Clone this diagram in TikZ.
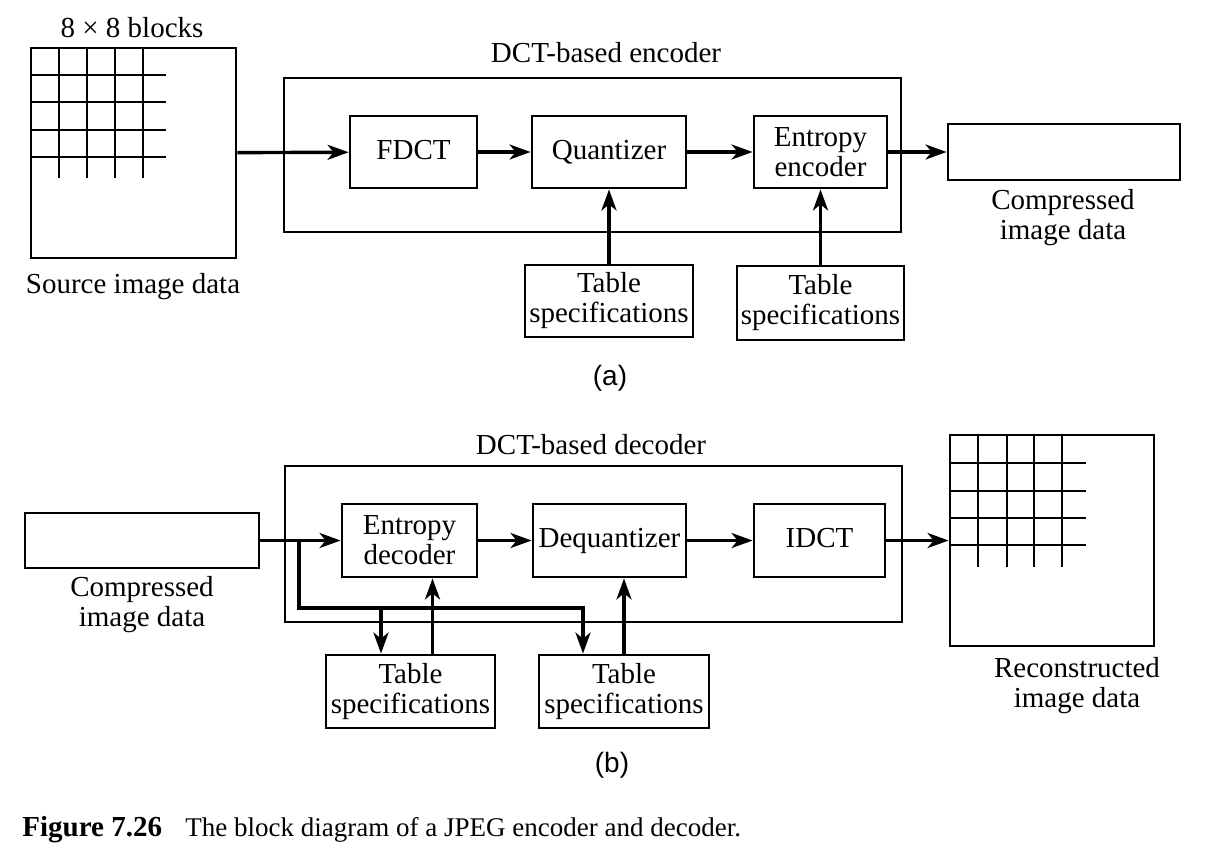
\documentclass[tikz,border=0pt]{standalone}
\usepackage{fontspec}
\setmainfont{Liberation Serif}
\setsansfont{Liberation Sans}
\usepackage{tikz}
\usetikzlibrary{positioning,arrows.meta}

\tikzset{
  block/.style={draw, line width=1.4pt, inner sep=1pt, align=center, minimum height=36pt},
  oneline/.style={text height=10pt, text depth=3pt},
  frame/.style={draw, line width=1.4pt, inner sep=0pt},
  grid/.style={line width=1.4pt},
  flow/.style={line width=1.7pt},
  txt/.style={align=center, inner sep=0pt}
}

\begin{document}
\begin{tikzpicture}[x=0.5pt,y=-0.5pt,on grid,auto,
  >={Stealth[length=10.5pt,width=7.5pt,inset=3pt]},
  font=\fontsize{14.5}{15}\selectfont]
\useasboundingbox (0,0) rectangle (1226,848);

%% (a) encoder
\node[frame, minimum width=102.5pt, minimum height=105pt] (src) at (133.5,153) {};
\foreach \x in {59,87,115,143} \draw[grid] (\x,48) -- (\x,178);
\foreach \y in {75,102,130,157} \draw[grid] (31,\y) -- (166,\y);
\node[txt] (blk) at (132,28) {8 × 8 blocks};
\node[txt] (srclab) at (133,287) {Source image data};

\node[frame, minimum width=308.5pt, minimum height=77pt] (enc) at (592.5,155) {};
\node[txt] (enclab) at (606,53) {DCT-based encoder};

\node[block, oneline, minimum width=63.5pt] (fdct) at (413.5,152) {FDCT};
\node[block, oneline, minimum width=77pt] (quant) [right=97.75pt of fdct] {Quantizer};
\node[block, minimum width=66.5pt] (entenc) [right=105.75pt of quant] {Entropy\\encoder};
\node[frame, minimum width=116pt, minimum height=28pt] (out) [right=121.75pt of entenc] {};
\node[txt] (outlab) at (1063,218) {Compressed\\image data};

\node[block, minimum width=84pt] (tabe1) [below=74.5pt of quant] {Table\\specifications};
\node[block, minimum width=83.5pt, minimum height=37pt] (tabe2) [below=75.5pt of entenc] {Table\\specifications};
\node[txt, font=\sffamily\fontsize{14}{15}\selectfont] (cap_a) at (610,378) {(a)};

\path[->, flow]
(src) edge (fdct)
(fdct) edge (quant)
(quant) edge (entenc)
(entenc) edge (out)
(tabe1.north) edge (tabe1.north |- quant.south)
(tabe2.north) edge (tabe2.north |- entenc.south)
; %end path

%% (b) decoder
\node[frame, minimum width=308.5pt, minimum height=78pt] (dec) at (593.5,544) {};
\node[txt] (declab) at (591,445) {DCT-based decoder};

\node[frame, minimum width=117pt, minimum height=27.5pt] (cin) at (142,540.5) {};
\node[txt] (cinlab) at (142,605) {Compressed\\image data};

\node[block, minimum width=67.5pt, minimum height=36.5pt] (entdec) at (409.5,540.5) {Entropy\\decoder};
\node[block, oneline, minimum width=76.5pt, minimum height=36.5pt] (deq) [right=100pt of entdec] {Dequantizer};
\node[block, oneline, minimum width=65.5pt, minimum height=36.5pt] (idct) [right=105pt of deq] {IDCT};
\node[frame, minimum width=102pt, minimum height=105.5pt] (rec) [right=116.25pt of idct] {};
\foreach \x in {978,1007,1034,1062} \draw[grid] (\x,436) -- (\x,567);
\foreach \y in {463,491,518,545} \draw[grid] (950,\y) -- (1086,\y);
\node[txt] (reclab) at (1077,686) {Reconstructed\\image data};

\node[block, minimum width=84.5pt, minimum height=36.5pt] (tabd1) [below=75.5pt of entdec, xshift=0.5pt] {Table\\specifications};
\node[block, minimum width=85pt, minimum height=36.5pt] (tabd2) [below=75.5pt of deq, xshift=7.25pt] {Table\\specifications};
\node[txt, font=\sffamily\fontsize{14}{15}\selectfont] (cap_b) at (612,765) {(b)};

\coordinate (split) at (299,540.5);
\coordinate (drop1) at (381,608);
\coordinate (drop2) at (583,608);

\path[->, flow]
(cin) edge (entdec)
(entdec) edge (deq)
(deq) edge (idct)
(idct) edge (rec)
(drop1) edge (drop1 |- tabd1.north)
([xshift=11pt]tabd1.north) edge ([xshift=11pt]tabd1.north |- entdec.south)
(tabd2.north) edge (tabd2.north |- deq.south)
; %end path
\draw[->, flow] (split) |- (drop2) -- (drop2 |- tabd2.north);

%% caption
\node[anchor=base west, inner sep=0pt, font=\fontsize{14.5}{15}\selectfont\bfseries] (fignum) at (22,836) {Figure 7.26};
\node[anchor=base west, inner sep=0pt, font=\fontsize{13.5}{15}\selectfont] (figtext) at (185,836) {The block diagram of a JPEG encoder and decoder.};
\end{tikzpicture}
\end{document}
